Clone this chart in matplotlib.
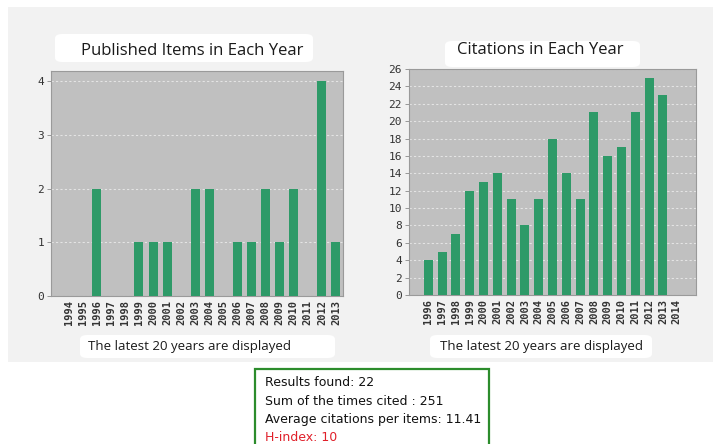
import numpy as np
import matplotlib
matplotlib.use("Agg")
from matplotlib import pyplot as plt
from matplotlib.patches import Rectangle, FancyBboxPatch

# data
pub_years = [str(y) for y in range(1994, 2014)]
pub_counts = [0, 0, 2, 0, 0, 1, 1, 1, 0, 2, 2, 0, 1, 1, 2, 1, 2, 0, 4, 1]

cite_years = [str(y) for y in range(1996, 2015)]
cite_counts = [4, 5, 7, 12, 13, 14, 11, 8, 11, 18, 14, 11, 21, 16, 17, 21, 25, 23, 0]

summary_lines = ["Results found: 22",
                 "Sum of the times cited : 251",
                 "Average citations per items: 11.41"]
hindex_line = "H-index: 10"

W, H = 720, 444
BAR = "#2e9a68"
FACE = "#c0c0c0"


def px(x, y, w, h):
    # pixel box (from top-left) -> figure fraction
    return [x / W, (H - y - h) / H, w / W, h / H]


fig = plt.figure(figsize=(7.2, 4.44), dpi=100)
fig.patch.set_facecolor("white")
fig.patches.append(Rectangle((8 / W, (H - 362) / H), 705 / W, 355 / H,
                             transform=fig.transFigure, facecolor="#f2f2f2",
                             edgecolor="none", zorder=-10))

# white label backgrounds behind the titles / captions
for bx in [(55, 34, 258, 28), (445, 41, 195, 26), (80, 335, 255, 23), (430, 335, 222, 23)]:
    l, b, w, h = px(*bx)
    fig.patches.append(FancyBboxPatch((l, b), w, h, boxstyle="round,pad=0,rounding_size=0.01",
                                      transform=fig.transFigure, facecolor="white",
                                      edgecolor="none", zorder=-5))


def bar_panel(rect, cats, vals, ymax, yticks, xlim):
    ax = fig.add_axes(px(*rect))
    ax.set_facecolor(FACE)
    x = np.arange(len(cats))
    ax.bar(x, vals, width=0.64, color=BAR, zorder=3)
    ax.set_xlim(*xlim)
    ax.set_ylim(0, ymax)
    ax.set_yticks(yticks)
    ax.set_xticks(x)
    ax.set_xticklabels(cats, rotation=90, family="DejaVu Sans Mono",
                       fontsize=7.5, fontweight="bold", color="#333333")
    for t in ax.get_yticklabels():
        t.set_family("DejaVu Sans Mono")
        t.set_fontsize(8)
        t.set_color("#333333")
    ax.tick_params(axis="x", length=0, pad=3)
    ax.tick_params(axis="y", length=3, width=0.6, color="#888888", pad=2)
    ax.grid(axis="y", color="#e4e4e4", linestyle=(0, (2, 2)), linewidth=0.8, zorder=1)
    for s in ax.spines.values():
        s.set_color("#9a9a9a")
        s.set_linewidth(0.8)
    return ax


bar_panel((51, 71, 292, 225), pub_years, pub_counts, 4.19, range(0, 5), (-1.25, 19.5))
bar_panel((409, 69, 287, 226), cite_years, cite_counts, 26, range(0, 27, 2), (-1.4, 19.4))

fig.text(192 / W, 1 - 51 / H, "Published Items in Each Year", ha="center", va="center",
         fontsize=12, family="Open Sans", color="#1a1a1a")
fig.text(540 / W, 1 - 50 / H, "Citations in Each Year", ha="center", va="center",
         fontsize=12, family="Open Sans", color="#1a1a1a")
fig.text(190 / W, 1 - 346 / H, "The latest 20 years are displayed", ha="center", va="center",
         fontsize=9.5, family="Open Sans", color="#1a1a1a")
fig.text(542 / W, 1 - 346 / H, "The latest 20 years are displayed", ha="center", va="center",
         fontsize=9.5, family="Open Sans", color="#1a1a1a")

# summary box at the bottom
fig.patches.append(Rectangle((255 / W, (H - 448) / H), 234 / W, 79 / H,
                             transform=fig.transFigure, facecolor="white",
                             edgecolor="#2c8c2c", linewidth=1.6, zorder=1))
for i, line in enumerate(summary_lines):
    fig.text(265 / W, 1 - (383 + 18 * i) / H, line, ha="left", va="center",
             fontsize=9, family="DejaVu Sans", color="#111111")
fig.text(265 / W, 1 - (383 + 18 * 3) / H, hindex_line, ha="left", va="center",
         fontsize=9, family="DejaVu Sans", color="#e0202a")

fig.savefig("out.png", dpi=100, facecolor=fig.get_facecolor())
